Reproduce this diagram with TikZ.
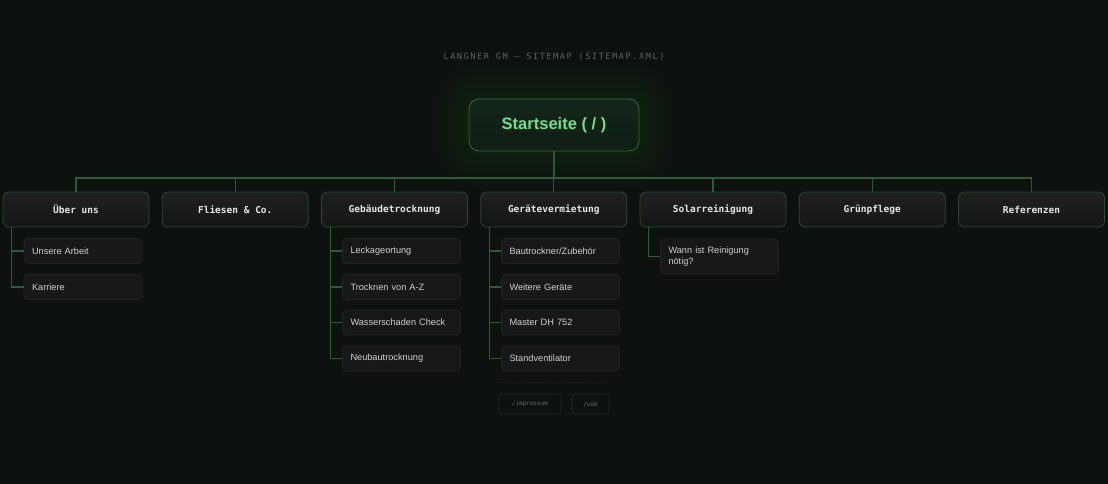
\documentclass[tikz,border=0pt]{standalone}
\usepackage{fontspec}
\setmainfont{Liberation Sans}
\setmonofont{DejaVu Sans Mono}
\definecolor{bg}{HTML}{0E120F}
\definecolor{conn}{HTML}{2E5A3A}
\definecolor{rootfill}{HTML}{142619}
\definecolor{rootfillb}{HTML}{101D14}
\definecolor{rootdraw}{HTML}{336640}
\definecolor{roottext}{HTML}{72E08C}
\definecolor{lonefilla}{HTML}{1E211F}
\definecolor{lonefillb}{HTML}{141715}
\definecolor{lonedraw}{HTML}{2B4A33}
\definecolor{lonetext}{HTML}{E6E8E6}
\definecolor{kidfill}{HTML}{171918}
\definecolor{kiddraw}{HTML}{232624}
\definecolor{kidtext}{HTML}{CFD2D0}
\definecolor{titletext}{HTML}{5E6360}
\definecolor{smalldraw}{HTML}{292C2A}
\definecolor{smalltext}{HTML}{6A6F6C}
\definecolor{glow}{HTML}{2F7A45}
\begin{document}
\begin{tikzpicture}[x=1pt,y=-1pt,
  rootbox/.style={draw=rootdraw,line width=0.9pt,rounded corners=10pt,top color=rootfill,bottom color=rootfillb,
    minimum width=170pt,minimum height=52pt,inner sep=0pt,text=roottext,font=\fontsize{16.5}{18}\selectfont\bfseries},
  lonebox/.style={draw=lonedraw,line width=0.8pt,rounded corners=6pt,top color=lonefilla,bottom color=lonefillb,
    minimum width=146pt,minimum height=35pt,inner sep=0pt,text=lonetext,font=\ttfamily\bfseries\fontsize{9.5}{11}\selectfont},
  kidbox/.style={draw=kiddraw,line width=0.6pt,rounded corners=4pt,fill=kidfill,
    minimum width=118pt,minimum height=25pt,inner sep=0pt,text=kidtext,font=\fontsize{9.2}{10}\selectfont,
    text width=102pt,align=left},
  smallbox/.style={draw=smalldraw,line width=0.6pt,rounded corners=3pt,
    minimum height=20pt,inner sep=0pt,text=smalltext,font=\ttfamily\fontsize{6}{7}\selectfont},
  link/.style={draw=conn,line width=1.1pt}]
\fill[bg] (0,0) rectangle (1108,484);
\useasboundingbox (0,0) rectangle (1108,484);
% soft glow
\foreach \g in {3,6,...,36}{
  \fill[glow,opacity=0.010,rounded corners={10+\g}] (469-\g,99-\g) rectangle (639+\g,151+\g);
}
\node[text=titletext,font=\ttfamily\fontsize{8.6}{10}\selectfont\addfontfeature{LetterSpace=18}] (title) at (554,57) {LANGNER GM — SITEMAP (SITEMAP.XML)};
\node[rootbox] (root) at (554,125) {Startseite ( / )};
\coordinate (bus) at (554,178);
\foreach \n/\t [count=\i from 0] in {a/{Über uns},b/{Fliesen \& Co.},c/{Gebäudetrocknung},d/{Gerätevermietung},e/{Solarreinigung},f/{Grünpflege},g/{Referenzen}}{
  \node[lonebox] (l\n) at ({76+159.25*\i},209.5) {\t};
  \coordinate (t\n) at ([xshift=9pt]l\n.south west);
}
\draw[link] (root.south) -- (bus);
\foreach \n in {a,b,c,d,e,f,g}{\draw[link] (l\n.north) |- (bus);}
% children
\node[kidbox] (a1) at (83,251) {Unsere Arbeit};
\node[kidbox] (a2) at (83,287) {Karriere};
\node[kidbox] (c1) at (401.5,251) {Leckageortung};
\node[kidbox] (c2) at (401.5,287) {Trocknen von A-Z};
\node[kidbox] (c3) at (401.5,322.5) {Wasserschaden Check};
\node[kidbox] (c4) at (401.5,358.5) {Neubautrocknung};
\node[kidbox] (d1) at (560.5,251) {Bautrockner/Zubehör};
\node[kidbox] (d2) at (560.5,287) {Weitere Geräte};
\node[kidbox] (d3) at (560.5,322.5) {Master DH 752};
\node[kidbox] (d4) at (560.5,358.5) {Standventilator};
\node[kidbox,minimum height=35pt,font=\fontsize{9.2}{10.5}\selectfont] (e1) at (719.5,256.5) {Wann ist Reinigung\\nötig?};
\foreach \k in {a1,a2}{\draw[link] (ta) |- (\k.west);}
\foreach \k in {c1,c2,c3,c4}{\draw[link] (tc) |- (\k.west);}
\foreach \k in {d1,d2,d3,d4}{\draw[link] (td) |- (\k.west);}
\draw[link] (te) |- (e1.west);
% footer
\coordinate (dl) at (499,382);
\coordinate (dr) at (609,382);
\draw[smalldraw,line width=0.6pt,dash pattern=on 1pt off 1.5pt] (dl) -- (dr);
\node[smallbox,minimum width=62pt] (imp) at (530,404) {/impressum};
\node[smallbox,minimum width=37pt] (vob) at (590.5,404) {/vob};
\end{tikzpicture}
\end{document}
